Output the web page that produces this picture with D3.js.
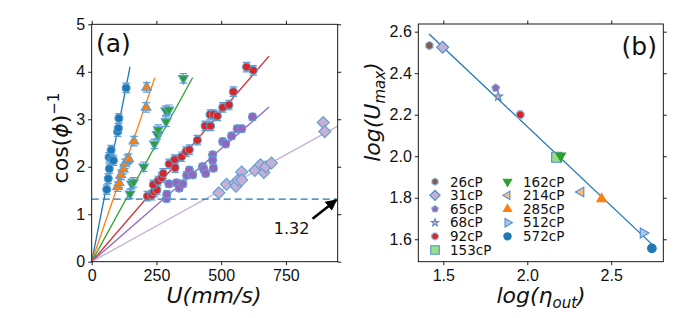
<!DOCTYPE html>
<html>
<head>
<meta charset="utf-8">
<script src="https://cdn.jsdelivr.net/npm/d3@7"></script>
<style>
html,body{margin:0;padding:0;background:#fff;}
svg{display:block;font-family:"DejaVu Sans",sans-serif;}
</style>
</head>
<body>
<svg id="chart" width="690" height="318"></svg>
<script>
// ---------- Panel (a) data ----------
const u572 = [58,64,68,67,77,84,75,100,103,105,133];
const v572 = [1.52,1.75,1.96,2.2,2.16,2.13,2.35,2.74,2.81,3.02,3.66];
const u285 = [100,106,113,122,128,137,143,163,210,212];
const v285 = [1.58,1.66,1.83,1.95,2.06,2.15,2.17,2.54,3.25,3.67];
const u162 = [148,154,161,201,242,253,257,287,286,298,354];
const v162 = [1.43,1.64,1.67,2.0,2.48,2.68,2.78,2.95,3.18,3.2,3.86];
const u92 = [215,232,240,252,238,256,270,276,299,322,320,347,364,377,408,438,459,457,470,485,506,530,547,598,624];
const v92 = [1.38,1.40,1.47,1.51,1.62,1.70,1.77,1.86,2.06,1.98,2.15,2.21,2.32,2.36,2.56,2.86,2.86,3.10,3.10,3.07,3.25,3.30,3.58,4.10,4.03];
const u65 = [289,290,298,328,338,352,367,377,390,428,433,440,467,467,470,506,517,540,562,579,621];
const v65 = [1.33,1.42,1.64,1.66,1.55,1.64,1.82,1.93,1.83,2.0,1.95,1.86,2.25,2.14,1.97,2.53,2.48,2.65,2.80,2.80,3.05];
const u31 = [491,521,553,557,565,579,579,630,652,665,672,694,894,900];
const v31 = [1.45,1.63,1.65,1.59,1.72,1.89,1.72,1.92,2.04,1.88,2.0,2.08,2.93,2.74];
const errA = [0.1,0.1,0.1,0.1,0.07,0.04]; // error bar half-heights per series
const fitEndU = [148,244,390,685,685,950];
const fitEndV = [4.105,3.88,3.88,4.33,3.26,2.857];
const xTicksA = [0,250,500,750];
const yTicksA = [0,1,2,3,4,5];
const thresholdA = 1.32;

// ---------- Panel (b) data ----------
const viscLabels = ["26cP","31cP","65cP","68cP","92cP","153cP","162cP","214cP","285cP","512cP","572cP"];
const logEta  = [1.417,1.496,1.812,1.827,1.958,2.175,2.199,2.320,2.443,2.690,2.742];
const logUmax = [2.533,2.525,2.329,2.288,2.200,1.995,2.002,1.828,1.794,1.630,1.556];
const fitBX = [1.415,2.746];
const fitBY = [2.589,1.573];
const xTicksB = [1.5,2.0,2.5];
const yTicksB = [1.6,1.8,2.0,2.2,2.4,2.6];

// ---------- styles ----------
const colA = ["#1f77b4","#ff7f0e","#2ca02c","#d62728","#9467bd","#c5b0d5"];
const shapeA = ["circle","triUp","triDown","circle","circle","diamond"];
const sizeA = [4,5.6,5.6,4,4,6];
const colB = ["#8c564b","#c5b0d5","#9467bd","#ff9896","#d62728","#98df8a","#2ca02c","#ffbb78","#ff7f0e","#aec7e8","#1f77b4"];
const shapeB = ["hexagon","diamond","pentagon","star","octagon","square","triDown","triLeft","triUp","triRight","circle"];
const sizeB = [4,6,4,4.6,4.2,5,5.6,5.6,5.6,5.8,4.3];
const edgeB = ["#7aa6c8","#4a90d0","#7aa6c8","#4a90d0","#8fb6d8","#4a90d0","#2ca02c","#4a90d0","#ff7f0e","#4a90d0","#1f77b4"];
const edge = "#5c9fd6";

function poly(n, r, rot){
  const pts=[];
  for(let i=0;i<n;i++){const a=rot+2*Math.PI*i/n;pts.push([r*Math.cos(a),r*Math.sin(a)]);}
  return "M"+pts.map(p=>p[0].toFixed(2)+","+p[1].toFixed(2)).join("L")+"Z";
}
function markerPath(t,s){
  switch(t){
    case "circle": return `M${s},0A${s},${s} 0 1,1 ${-s},0A${s},${s} 0 1,1 ${s},0Z`;
    case "diamond": return poly(4,s,-Math.PI/2);
    case "square": return poly(4,s*Math.SQRT2,Math.PI/4);
    case "triUp": return poly(3,s,-Math.PI/2);
    case "triDown": return poly(3,s,Math.PI/2);
    case "triLeft": return poly(3,s,Math.PI);
    case "triRight": return poly(3,s,0);
    case "hexagon": return poly(6,s,-Math.PI/2);
    case "pentagon": return poly(5,s,-Math.PI/2);
    case "octagon": return poly(8,s,Math.PI/8);
    case "star": {
      const pts=[];
      for(let i=0;i<10;i++){const r=i%2?s*0.42:s;const a=-Math.PI/2+Math.PI*i/5;pts.push([r*Math.cos(a),r*Math.sin(a)]);}
      return "M"+pts.map(p=>p[0].toFixed(2)+","+p[1].toFixed(2)).join("L")+"Z";
    }
  }
}

const svg = d3.select("#chart");
const FS = 16;

function frame(g, x, y, xt, yt, fmt){
  const [x0,x1]=x.range(), [y0,y1]=y.range();
  const ax = (a)=>{a.selectAll(".domain").remove(); a.selectAll("line").attr("stroke","#000").attr("stroke-width",0.9); a.selectAll("text").attr("font-size",FS).attr("fill","#111");};
  g.append("g").attr("transform",`translate(0,${y0})`).call(d3.axisBottom(x).tickValues(xt).tickFormat(fmt.x).tickSize(3.5).tickPadding(4)).call(ax);
  g.append("g").attr("transform",`translate(0,${y1})`).call(d3.axisTop(x).tickValues(xt).tickFormat("").tickSize(3.5)).call(ax);
  g.append("g").attr("transform",`translate(${x0},0)`).call(d3.axisLeft(y).tickValues(yt).tickFormat(fmt.y).tickSize(3.5).tickPadding(3)).call(ax);
  g.append("g").attr("transform",`translate(${x1},0)`).call(d3.axisRight(y).tickValues(yt).tickFormat("").tickSize(3.5)).call(ax);
  g.append("rect").attr("x",x0).attr("y",y1).attr("width",x1-x0).attr("height",y0-y1)
    .attr("fill","none").attr("stroke","#000").attr("stroke-width",0.9);
}

// ---------- Panel (a) ----------
const xA = d3.scaleLinear().domain([0,950]).range([91.7,337.7]);
const yA = d3.scaleLinear().domain([0,5]).range([261.7,24.3]);
const gA = svg.append("g");
const defs = svg.append("defs");
defs.append("clipPath").attr("id","clipA").append("rect").attr("x",91.7).attr("y",24.3).attr("width",246).attr("height",237.4);

const seriesA = [[u572,v572],[u285,v285],[u162,v162],[u92,v92],[u65,v65],[u31,v31]];
const plotA = gA.append("g").attr("clip-path","url(#clipA)");
fitEndU.forEach((eu,i)=>{
  plotA.append("line").attr("x1",xA(0)).attr("y1",yA(0)).attr("x2",xA(eu)).attr("y2",yA(fitEndV[i]))
    .attr("stroke",colA[i]).attr("stroke-width",1.3);
});
plotA.append("line").attr("x1",xA(0)).attr("x2",xA(950)).attr("y1",yA(thresholdA)).attr("y2",yA(thresholdA))
  .attr("stroke","#1f77b4").attr("stroke-width",1.3).attr("stroke-dasharray","7,4");
[5,4,3,2,1,0].forEach(i=>{
  const [us,vs]=seriesA[i];
  const g=plotA.append("g");
  us.forEach((u,k)=>{
    const cx=xA(u), v=vs[k], e=errA[i];
    g.append("line").attr("x1",cx).attr("x2",cx).attr("y1",yA(v-e)).attr("y2",yA(v+e)).attr("stroke",edge).attr("stroke-width",1.2);
    [v-e,v+e].forEach(w=>g.append("line").attr("x1",cx-3.8).attr("x2",cx+3.8).attr("y1",yA(w)).attr("y2",yA(w)).attr("stroke",edge).attr("stroke-width",1.2));
  });
  us.forEach((u,k)=>{
    g.append("path").attr("d",markerPath(shapeA[i],sizeA[i])).attr("transform",`translate(${xA(u)},${yA(vs[k])})`)
      .attr("fill",colA[i]).attr("stroke",edge).attr("stroke-width",1.1);
  });
});
frame(gA,xA,yA,xTicksA,yTicksA,{x:d3.format("d"),y:d3.format("d")});
defs.append("marker").attr("id","arr").attr("viewBox","0 0 10 10").attr("refX",9).attr("refY",5)
  .attr("markerWidth",4.4).attr("markerHeight",4.4).attr("markerUnits","strokeWidth").attr("orient","auto")
  .append("path").attr("d","M0,0L10,5L0,10Z").attr("fill","#000");
gA.append("line").attr("x1",xA(853)).attr("y1",yA(0.905)).attr("x2",xA(945)).attr("y2",yA(1.30))
  .attr("stroke","#000").attr("stroke-width",2.6).attr("marker-end","url(#arr)");
gA.append("text").attr("x",xA(772)).attr("y",yA(0.70)+6).attr("text-anchor","middle").attr("font-size",FS).attr("fill","#111").text("1.32");
gA.append("text").attr("x",96).attr("y",52).attr("font-size",25).attr("fill","#111").text("(a)");
const xlA = gA.append("text").attr("x",214).attr("y",303).attr("text-anchor","middle").attr("font-size",22).attr("fill","#111").attr("font-style","italic");
xlA.text("U(mm/s)");
const ylA = gA.append("text").attr("transform","translate(68,138) rotate(-90)").attr("text-anchor","middle").attr("font-size",22).attr("fill","#111");
ylA.append("tspan").text("cos(");
ylA.append("tspan").attr("font-style","italic").text("ϕ");
ylA.append("tspan").text(")");
ylA.append("tspan").attr("font-size",15).attr("dy",-9).text("−1");

// ---------- Panel (b) ----------
const xB = d3.scaleLinear().domain([1.351,2.81]).range([418.3,663.3]);
const yB = d3.scaleLinear().domain([1.492,2.637]).range([261.7,24]);
const gB = svg.append("g");
gB.append("line").attr("x1",xB(fitBX[0])).attr("y1",yB(fitBY[0])).attr("x2",xB(fitBX[1])).attr("y2",yB(fitBY[1]))
  .attr("stroke","#1f77b4").attr("stroke-width",1.3);
logEta.forEach((x,i)=>{
  gB.append("path").attr("d",markerPath(shapeB[i],sizeB[i])).attr("transform",`translate(${xB(x)},${yB(logUmax[i])})`)
    .attr("fill",colB[i]).attr("stroke",edgeB[i]).attr("stroke-width",1.1);
});
frame(gB,xB,yB,xTicksB,yTicksB,{x:d3.format(".1f"),y:d3.format(".1f")});
viscLabels.forEach((lab,i)=>{
  const col = i<6?0:1, row = i<6?i:i-6;
  const mx = col?507.5:435, tx = col?523:450, y = 181.7+row*13.66;
  gB.append("path").attr("d",markerPath(shapeB[i],sizeB[i]*0.85)).attr("transform",`translate(${mx},${y})`)
    .attr("fill",colB[i]).attr("stroke",edgeB[i]).attr("stroke-width",1.1);
  gB.append("text").attr("x",tx).attr("y",y+4.8).attr("font-size",13.5).attr("fill","#111").text(lab);
});
gB.append("text").attr("x",657).attr("y",55).attr("text-anchor","end").attr("font-size",25).attr("fill","#111").text("(b)");
const xlB = gB.append("text").attr("x",541).attr("y",303).attr("text-anchor","middle").attr("font-size",22).attr("fill","#111").attr("font-style","italic");
xlB.append("tspan").text("log(η");
xlB.append("tspan").attr("font-size",15).attr("dy",5).text("out");
xlB.append("tspan").attr("dy",-5).text(")");
const ylB = gB.append("text").attr("transform","translate(380,112) rotate(-90)").attr("text-anchor","middle").attr("font-size",22).attr("fill","#111").attr("font-style","italic");
ylB.append("tspan").text("log(U");
ylB.append("tspan").attr("font-size",15).attr("dy",5).text("max");
ylB.append("tspan").attr("dy",-5).text(")");
</script>
</body>
</html>
